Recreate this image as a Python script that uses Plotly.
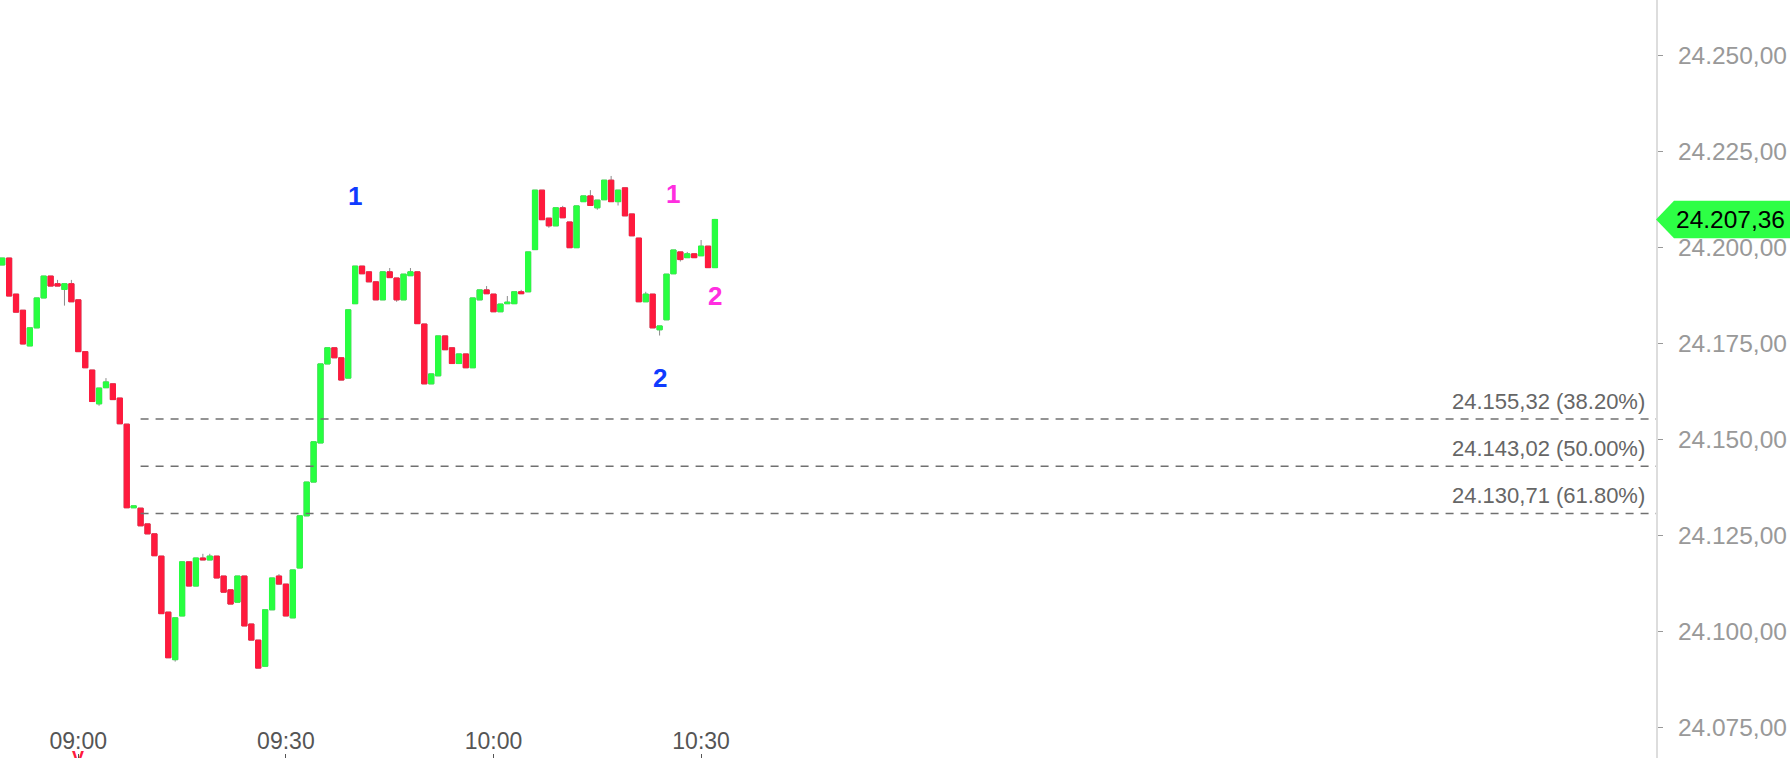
import pandas as pd
import plotly.graph_objects as go

# ---------------- data ----------------
start_time = "2025-07-10 08:49"
opens = [24195.5, 24197.3, 24187.9, 24183.7, 24174.4, 24179.1, 24186.9, 24192.6, 24190.6, 24189.1,
         24190.6, 24186.4, 24172.9, 24168.1, 24159.3, 24163.5, 24164.5, 24160.8, 24154.0, 24132.2,
         24132.1, 24128.0, 24125.4, 24119.6, 24105.0, 24092.6, 24104.0, 24118.1, 24111.8, 24119.1,
         24118.6, 24119.6, 24114.4, 24110.8, 24107.6, 24114.4, 24101.9, 24097.7, 24090.9, 24105.6,
         24114.4, 24112.3, 24103.5, 24116.5, 24130.1, 24138.9, 24149.1, 24169.7, 24173.9, 24171.3,
         24166.0, 24185.4, 24195.2, 24193.7, 24191.1, 24186.4, 24193.7, 24192.1, 24186.4, 24192.7,
         24193.7, 24180.1, 24164.5, 24166.6, 24177.0, 24173.9, 24169.8, 24172.3, 24168.7, 24186.4,
         24189.0, 24187.9, 24183.3, 24185.4, 24185.4, 24188.5, 24188.5, 24199.5, 24215.0, 24207.7,
         24205.7, 24210.4, 24206.7, 24200.0, 24212.0, 24213.5, 24210.4, 24212.5, 24217.6, 24212.0,
         24215.6, 24208.8, 24202.5, 24185.9, 24187.9, 24178.6, 24181.2, 24193.2, 24198.9, 24197.4,
         24198.4, 24197.9, 24200.4, 24194.8]
highs = [24197.3, 24197.3, 24187.9, 24183.7, 24179.1, 24186.9, 24192.6, 24192.6, 24191.6, 24190.6,
         24191.6, 24186.4, 24172.9, 24168.1, 24163.4, 24166.0, 24164.5, 24160.8, 24154.0, 24132.7,
         24132.1, 24128.0, 24125.4, 24119.6, 24105.0, 24103.5, 24118.1, 24118.1, 24119.1, 24120.2,
         24120.2, 24119.6, 24114.4, 24110.8, 24114.4, 24114.4, 24101.9, 24097.7, 24105.6, 24113.9,
         24114.9, 24112.3, 24116.0, 24130.1, 24138.9, 24149.4, 24169.7, 24173.9, 24173.9, 24171.3,
         24183.8, 24195.2, 24195.2, 24193.7, 24191.1, 24193.7, 24194.7, 24192.1, 24193.1, 24194.7,
         24193.7, 24180.1, 24167.1, 24177.0, 24177.0, 24173.9, 24172.3, 24172.3, 24186.9, 24189.0,
         24190.0, 24187.9, 24185.3, 24187.4, 24188.5, 24189.0, 24198.9, 24215.0, 24215.0, 24207.7,
         24210.4, 24210.9, 24206.7, 24210.9, 24213.5, 24215.0, 24212.4, 24217.6, 24218.7, 24215.0,
         24215.6, 24208.8, 24202.5, 24188.5, 24187.9, 24179.6, 24193.1, 24199.4, 24198.9, 24198.9,
         24198.4, 24202.0, 24200.4, 24207.5]
lows = [24195.5, 24187.4, 24183.2, 24174.9, 24174.4, 24179.1, 24186.9, 24190.0, 24190.0, 24184.9,
        24185.9, 24172.9, 24168.7, 24159.9, 24158.8, 24163.5, 24160.4, 24154.1, 24132.2, 24132.2,
        24127.5, 24125.4, 24119.7, 24104.6, 24093.1, 24092.1, 24104.0, 24111.8, 24111.8, 24118.6,
        24118.6, 24113.9, 24110.2, 24107.1, 24107.6, 24101.4, 24097.7, 24090.4, 24090.9, 24105.6,
        24112.3, 24104.0, 24103.5, 24116.5, 24130.1, 24138.9, 24149.1, 24169.7, 24171.3, 24165.5,
        24166.0, 24185.4, 24193.2, 24191.1, 24186.4, 24186.4, 24192.2, 24185.9, 24186.4, 24192.7,
        24180.2, 24164.5, 24164.5, 24166.6, 24173.4, 24169.8, 24169.8, 24168.7, 24168.7, 24186.4,
        24188.0, 24183.3, 24183.3, 24185.4, 24185.4, 24188.0, 24188.5, 24199.5, 24207.3, 24205.2,
        24205.7, 24207.8, 24200.0, 24200.0, 24212.0, 24211.0, 24209.9, 24212.5, 24212.0, 24211.0,
        24208.3, 24203.1, 24185.9, 24185.9, 24179.1, 24177.1, 24181.2, 24193.2, 24196.4, 24197.4,
        24197.4, 24197.9, 24194.8, 24194.8]
closes = [24197.3, 24187.4, 24183.2, 24174.9, 24179.1, 24186.9, 24192.6, 24190.0, 24190.0, 24190.6,
          24185.9, 24172.9, 24168.7, 24159.9, 24163.4, 24165.0, 24160.4, 24154.1, 24132.2, 24132.7,
          24127.5, 24125.4, 24119.7, 24104.6, 24093.1, 24103.5, 24118.1, 24111.8, 24119.1, 24118.6,
          24119.6, 24113.9, 24110.2, 24107.1, 24114.4, 24101.4, 24097.7, 24090.4, 24105.6, 24113.9,
          24112.3, 24104.0, 24116.0, 24130.1, 24138.9, 24149.4, 24169.7, 24173.9, 24171.3, 24165.5,
          24183.8, 24195.2, 24193.2, 24191.1, 24186.4, 24193.7, 24192.2, 24186.4, 24193.1, 24193.7,
          24180.2, 24164.5, 24167.1, 24177.0, 24173.4, 24169.8, 24172.3, 24168.7, 24186.9, 24189.0,
          24188.0, 24183.3, 24185.3, 24185.8, 24188.5, 24188.0, 24198.9, 24215.0, 24207.3, 24205.7,
          24210.4, 24207.8, 24200.0, 24210.9, 24213.5, 24211.0, 24212.4, 24217.6, 24212.0, 24215.0,
          24208.3, 24203.1, 24185.9, 24187.9, 24179.1, 24179.6, 24193.1, 24199.4, 24196.9, 24198.4,
          24197.4, 24200.4, 24194.8, 24207.36]

x_tick_times = ["09:00", "09:30", "10:00", "10:30"]
y_tick_values = [24075, 24100, 24125, 24150, 24175, 24200, 24225, 24250]

fib_values = [24155.32, 24143.02, 24130.71]
fib_labels = ["24.155,32 (38.20%)", "24.143,02 (50.00%)", "24.130,71 (61.80%)"]
fib_start_time = "09:09"

wave_labels = ["1", "2", "1", "2"]
wave_times = ["09:40", "10:24", "10:26", "10:32"]
wave_values = [24213.6, 24166.1, 24214.1, 24187.3]
wave_colors = ["#0f3bff", "#0f3bff", "#ff2ee0", "#ff2ee0"]

last_price = 24207.36
last_price_text = "24.207,36"
marker_time = "09:00"
marker_text = "V"

# ---------------- styling / layout constants ----------------
UP = "#27ff40"
DOWN = "#ff1a3d"
W, H = 1790, 758
R_MARGIN = 134
PLOT_W = W - R_MARGIN
day = start_time.split(" ")[0]
y_range = [24066.97, 24264.57]
x_range = [pd.Timestamp(day + " 09:00") - pd.Timedelta(minutes=78.3 / 6.92),
           pd.Timestamp(day + " 09:00") + pd.Timedelta(minutes=(PLOT_W - 78.3) / 6.92)]

times = pd.date_range(start_time, periods=len(opens), freq="1min")
body_hi = [max(o, c) for o, c in zip(opens, closes)]
body_lo = [min(o, c) for o, c in zip(opens, closes)]

fig = go.Figure()
# wicks (gray)
fig.add_trace(go.Candlestick(
    x=times, open=opens, high=highs, low=lows, close=closes,
    increasing=dict(line=dict(color="#8a8a8a", width=1), fillcolor="#8a8a8a"),
    decreasing=dict(line=dict(color="#8a8a8a", width=1), fillcolor="#8a8a8a"),
    whiskerwidth=0, showlegend=False, hoverinfo="skip"))
# bodies (colored)
fig.add_trace(go.Candlestick(
    x=times, open=opens, high=body_hi, low=body_lo, close=closes,
    increasing=dict(line=dict(color=UP, width=1), fillcolor=UP),
    decreasing=dict(line=dict(color=DOWN, width=1), fillcolor=DOWN),
    whiskerwidth=0, showlegend=False))

# Fibonacci lines
for v, lab in zip(fib_values, fib_labels):
    fig.add_shape(type="line", xref="x", yref="y",
                  x0=pd.Timestamp(day + " " + fib_start_time), x1=x_range[1], y0=v, y1=v,
                  line=dict(color="#707070", width=1.5, dash="8px,7px"))
    fig.add_annotation(x=1647 / PLOT_W, xref="paper", y=v, yref="y", text=lab,
                       showarrow=False, xanchor="right", yanchor="bottom", yshift=3,
                       font=dict(size=22, color="#666666", family="Liberation Sans, Arial"))

# Wave labels
for lab, t, v, c in zip(wave_labels, wave_times, wave_values, wave_colors):
    fig.add_annotation(x=pd.Timestamp(day + " " + t), y=v, text=lab, showarrow=False,
                       xanchor="center", yanchor="middle",
                       font=dict(size=26, color=c, family="Liberation Sans, Arial", weight="bold"))

# last price tag
span = y_range[1] - y_range[0]
py = (last_price - y_range[0]) / span
hh = 18.8 / H
x_tip, x_base, x_end = 1.0, 1674 / PLOT_W, W / PLOT_W
fig.add_shape(type="path", xref="paper", yref="paper",
              path=f"M {x_tip},{py} L {x_base},{py + hh} L {x_end},{py + hh} L {x_end},{py - hh} L {x_base},{py - hh} Z",
              fillcolor="#2dff45", line=dict(width=0), layer="above")
fig.add_annotation(x=1674 / PLOT_W, xref="paper", y=last_price, yref="y", text=last_price_text,
                   showarrow=False, xanchor="left", yanchor="middle",
                   font=dict(size=24.5, color="#000000", family="Liberation Sans, Arial"))

# red marker at bottom
fig.add_annotation(x=pd.Timestamp(day + " " + marker_time), y=(H - 746) / H, yref="paper",
                   text=marker_text, showarrow=False, xanchor="center", yanchor="top",
                   font=dict(size=18, color=DOWN, family="Liberation Sans, Arial", weight="bold"))

fig.update_layout(
    width=W, height=H, margin=dict(l=0, r=R_MARGIN, t=0, b=0),
    paper_bgcolor="white", plot_bgcolor="white",
    separators=",.", boxgap=0.25, boxgroupgap=0,
    showlegend=False,
    font=dict(family="Liberation Sans, Arial"),
)
fig.update_xaxes(
    type="date", range=x_range, rangeslider=dict(visible=False),
    showgrid=False, zeroline=False, showline=False,
    tickvals=[pd.Timestamp(day + " " + t) for t in x_tick_times], ticktext=x_tick_times,
    ticks="inside", ticklen=4, tickcolor="#555555", tickwidth=1,
    ticklabelposition="inside", ticklabelstandoff=2,
    tickfont=dict(size=23, color="#555555"),
)
fig.update_yaxes(
    side="right", range=y_range, showgrid=False, zeroline=False,
    showline=True, linecolor="#dddddd", linewidth=2,
    tickvals=y_tick_values, tickformat=",.2f",
    ticks="outside", ticklen=5, tickcolor="#999999", tickwidth=1,
    ticklabelstandoff=10,
    tickfont=dict(size=24.5, color="#999999"),
)

fig.write_html("out.html", config={"displayModeBar": False},
               post_script="document.body.style.margin='0';")
